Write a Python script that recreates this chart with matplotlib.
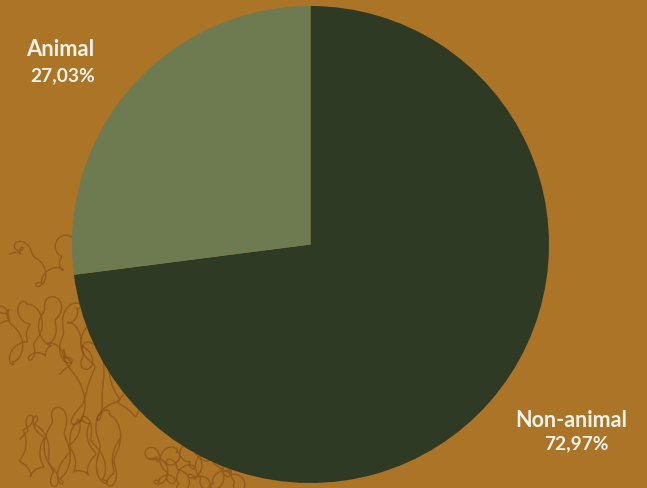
import matplotlib
matplotlib.use('Agg')
import matplotlib.pyplot as plt
import numpy as np

labels = ['Non-animal', 'Animal']
shares = [72.97, 27.03]
colors = ['#2f3a24', '#6e7b50']
bg = '#ab7426'

fig = plt.figure(figsize=(6.47, 4.89), dpi=100, facecolor=bg)
ax = fig.add_axes([0, 0, 1, 1])
ax.set_facecolor(bg)

# faint brown scribbles in the lower left corner
t = np.linspace(0, 1, 600)
scribbles = [
    (10, 150, 200, 250, 3.0, 7.0, 17.0),
    (0, 90, 120, 190, 4.0, 9.0, 23.0),
    (60, 190, 60, 150, 5.0, 11.0, 19.0),
    (20, 120, 0, 80, 6.0, 8.0, 29.0),
    (150, 240, 0, 40, 5.0, 13.0, 31.0),
]
for x0, x1, y0, y1, f1, f2, f3 in scribbles:
    xs = x0 + (x1 - x0) * t + 7 * np.sin(2 * np.pi * f2 * t) + 3 * np.sin(2 * np.pi * f3 * t)
    ys = (y0 + (y1 - y0) * (0.5 + 0.4 * np.sin(2 * np.pi * f1 * t))
          + 6 * np.cos(2 * np.pi * f2 * t) + 3 * np.cos(2 * np.pi * f3 * t))
    ax.plot(xs, ys, color='#7a4212', lw=1.0, alpha=0.5, zorder=1)

ax.pie(shares, colors=colors, startangle=90, counterclock=False,
       center=(310.5, 243.5), radius=238.5, frame=True,
       wedgeprops=dict(linewidth=0, zorder=2))
ax.set_xlim(0, 647)
ax.set_ylim(0, 489)
ax.set_aspect('equal')
ax.axis('off')

txt = dict(color='#f7f3ea', fontweight='bold', family=['Lato', 'DejaVu Sans'],
           ha='center', va='center')
ax.text(60, 439, labels[1], fontsize=15.8, **txt)
ax.text(63, 413, f'{shares[1]:.2f}%'.replace('.', ','), fontsize=13.8, **txt)
ax.text(571, 68, labels[0], fontsize=15.5, **txt)
ax.text(576, 45, f'{shares[0]:.2f}%'.replace('.', ','), fontsize=13.8, **txt)

fig.savefig('out.png', dpi=100, facecolor=bg)
